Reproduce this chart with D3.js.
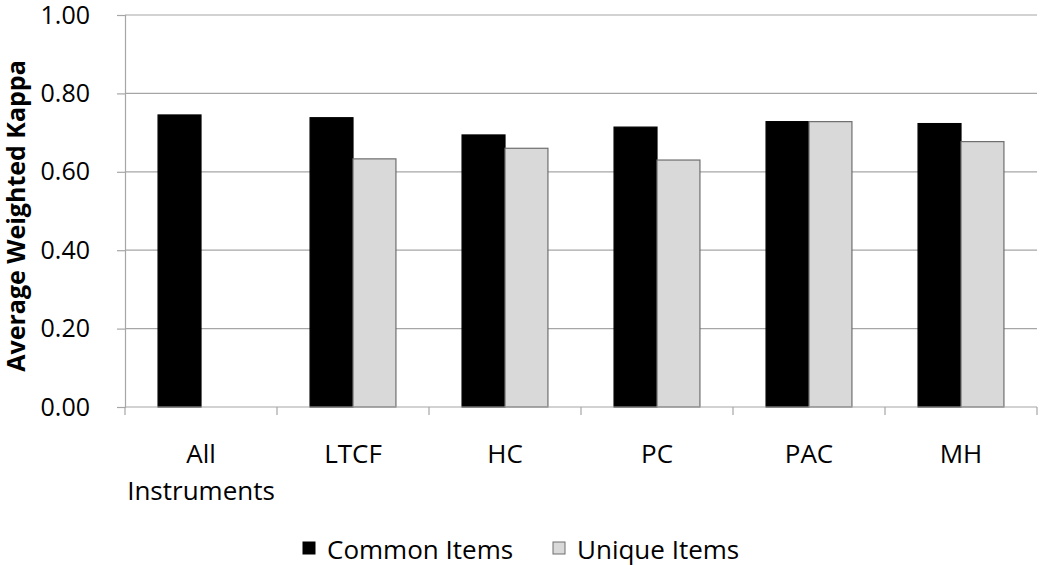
<!DOCTYPE html>
<html>
<head>
<meta charset="utf-8">
<script src="https://cdn.jsdelivr.net/npm/d3@7"></script>
<style>
  body { margin: 0; background: #fff; }
  text { font-family: "Open Sans", "Noto Sans", sans-serif; fill: #000; }
</style>
</head>
<body>
<div class="chart"></div>
<script>
var categories = ['All Instruments', 'LTCF', 'HC', 'PC', 'PAC', 'MH'];
var commonItems = [0.745, 0.738, 0.694, 0.714, 0.728, 0.723];
var uniqueItems = [null, 0.633, 0.660, 0.630, 0.728, 0.677];
var yTicks = [0, 0.2, 0.4, 0.6, 0.8, 1.0];
var seriesNames = ['Common Items', 'Unique Items'];

var width = 1042, height = 565;
var plotLeft = 125, plotRight = 1037, plotTop = 15, plotBottom = 407;

var svg = d3.select('.chart').append('svg')
  .attr('width', width)
  .attr('height', height);

var x = d3.scaleBand()
  .domain(categories)
  .range([plotLeft, plotRight])
  .paddingInner(0)
  .paddingOuter(0);

var inner = d3.scaleBand()
  .domain(seriesNames)
  .range([0, x.bandwidth()])
  .paddingOuter(0.77)
  .paddingInner(0);

var y = d3.scaleLinear()
  .domain([0, 1])
  .range([plotBottom, plotTop]);

// gridlines
svg.append('g')
  .attr('class', 'grid')
  .selectAll('line')
  .data(yTicks.filter(function(d) { return d > 0; }))
  .enter().append('line')
  .attr('x1', plotLeft)
  .attr('x2', plotRight)
  .attr('y1', function(d) { return y(d); })
  .attr('y2', function(d) { return y(d); })
  .attr('stroke', '#a6a6a6')
  .attr('stroke-width', 1.2);

// y axis
var yAxis = svg.append('g')
  .attr('transform', 'translate(' + plotLeft + ',0)')
  .call(d3.axisLeft(y).tickValues(yTicks).tickFormat(d3.format('.2f')).tickSize(8).tickPadding(27));
yAxis.select('.domain').attr('stroke', '#a6a6a6').attr('stroke-width', 1.2);
yAxis.selectAll('.tick line').attr('stroke', '#a6a6a6').attr('stroke-width', 1.2);
yAxis.selectAll('.tick text')
  .style('font-family', '"Open Sans", sans-serif')
  .attr('font-size', 25)
  .attr('fill', '#000');

// bars
var series = [
  { name: seriesNames[0], values: commonItems, fill: '#000000', stroke: '#000000' },
  { name: seriesNames[1], values: uniqueItems, fill: '#d9d9d9', stroke: '#6e6e6e' }
];

series.forEach(function(s) {
  svg.append('g')
    .attr('class', 'bars')
    .selectAll('rect')
    .data(categories.map(function(c, i) { return { cat: c, v: s.values[i] }; })
      .filter(function(d) { return d.v != null; }))
    .enter().append('rect')
    .attr('x', function(d) { return x(d.cat) + inner(s.name); })
    .attr('y', function(d) { return y(d.v); })
    .attr('width', inner.bandwidth())
    .attr('height', function(d) { return y(0) - y(d.v); })
    .attr('fill', s.fill)
    .attr('stroke', s.stroke)
    .attr('stroke-width', 1.2);
});

// x axis
var xAxis = svg.append('g')
  .attr('transform', 'translate(0,' + plotBottom + ')');
xAxis.append('line')
  .attr('x1', plotLeft).attr('x2', plotRight)
  .attr('stroke', '#a6a6a6').attr('stroke-width', 1.2);
xAxis.selectAll('.xtick')
  .data(categories.concat(['end']))
  .enter().append('line')
  .attr('x1', function(d, i) { return plotLeft + i * x.bandwidth(); })
  .attr('x2', function(d, i) { return plotLeft + i * x.bandwidth(); })
  .attr('y1', 0).attr('y2', 8)
  .attr('stroke', '#a6a6a6').attr('stroke-width', 1.2);

var xLabels = xAxis.selectAll('.xlabel')
  .data(categories)
  .enter().append('text')
  .attr('text-anchor', 'middle')
  .attr('font-size', 26)
  .attr('transform', function(d) { return 'translate(' + (x(d) + x.bandwidth() / 2) + ',56)'; });
xLabels.each(function(d) {
  var words = d.split(' ');
  var t = d3.select(this);
  words.forEach(function(w, i) {
    t.append('tspan').attr('x', 0).attr('dy', i === 0 ? 0 : 37).text(w);
  });
});

// y axis title
svg.append('text')
  .attr('transform', 'translate(25,216) rotate(-90)')
  .attr('text-anchor', 'middle')
  .attr('font-size', 25)
  .attr('font-weight', 'bold')
  .text('Average Weighted Kappa');

// legend
var legend = svg.append('g').attr('class', 'legend');
var legendX = [303, 553];
series.forEach(function(s, i) {
  legend.append('rect')
    .attr('x', legendX[i]).attr('y', 542)
    .attr('width', 12).attr('height', 12)
    .attr('fill', s.fill)
    .attr('stroke', s.stroke)
    .attr('stroke-width', 1);
  legend.append('text')
    .attr('x', legendX[i] + 24).attr('y', 559)
    .attr('font-size', 26)
    .text(s.name);
});
</script>
</body>
</html>
